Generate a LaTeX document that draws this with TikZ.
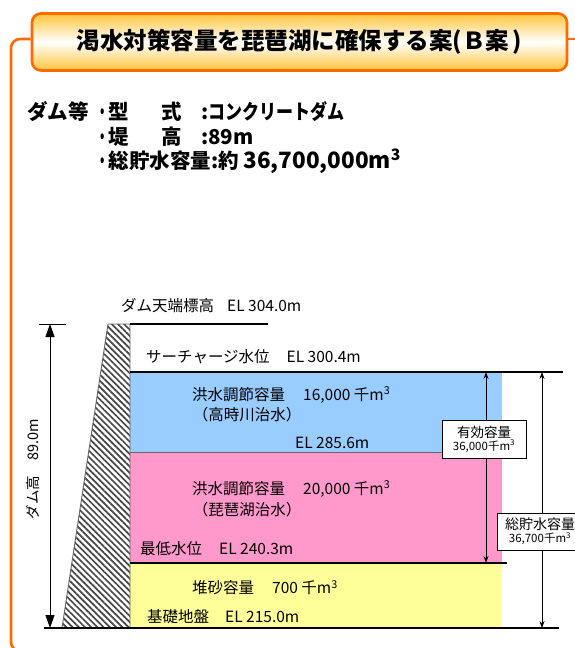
\documentclass[tikz,border=0pt]{standalone}
\usepackage{fontspec}
\setmainfont{Noto Sans CJK JP}
\usetikzlibrary{calc,patterns,patterns.meta,arrows.meta}
\definecolor{frameorange}{HTML}{FF6A00}
\definecolor{titlegold}{HTML}{FFC43A}
\definecolor{floodblue}{HTML}{99CCFF}
\definecolor{floodpink}{HTML}{FF99CC}
\definecolor{sandyellow}{HTML}{FFFF99}
\tikzset{
  spec/.style={anchor=west, inner sep=0pt, font=\fontsize{20.5}{22}\selectfont\bfseries},
  lbl/.style={anchor=west, inner sep=0pt, font=\fontsize{15.5}{17}\selectfont},
  elevline/.style={line width=1.2pt},
  capbox/.style={draw, line width=0.9pt, fill=white, align=center, inner sep=1.5pt},
  smallarrow/.style={line width=0.8pt, {Stealth[length=7pt,width=5pt]}-{Stealth[length=7pt,width=5pt]}}
}

\begin{document}
\begin{tikzpicture}[x=1pt,y=-1pt]
			%%%%% START %%%%%
			\useasboundingbox (0,0) rectangle (575,648);
			
			% title and frame
			\node[draw=frameorange, line width=2.6pt, rounded corners=9pt, minimum width=535pt, minimum height=57pt,
			      top color=titlegold, bottom color=titlegold, middle color=white,
			      font=\fontsize{23.5}{26}\selectfont\bfseries] (title) at (299.5,42) {渇水対策容量を琵琶湖に確保する案(Ｂ案\,)};
			\coordinate (frametop) at (11,39);
			\coordinate (framebot) at (11,651);
			\draw[frameorange, line width=2.6pt, rounded corners=9pt] (title.west |- frametop) -- (frametop) -- (framebot) -- (60,651);
			\draw[frameorange, line width=2.6pt] (title.east |- frametop) -- (578,39);
			
			% specification
			\node[spec] (damtype) at (27,112) {ダム等};
			\node[spec] (kata) at (96,112) {\scalebox{0.6}[1]{・}型};
			\node[spec] (shiki) at (161,112) {式};
			\node[spec] (typeval) at (201,112) {:\scalebox{0.83}[1]{コンクリートダム}};
			\node[spec] (tei) at (96,137) {\scalebox{0.6}[1]{・}堤};
			\node[spec] (kou) at (161,137) {高};
			\node[spec] (heightval) at (201,137) {:89m};
			\node[spec] (volval) at (96,161) {\scalebox{0.6}[1]{・}総貯水容量:約 {\fontsize{22.5}{24}\selectfont 36,700,000m\textsuperscript{3}}};
			
			% reservoir layers
			\fill[floodblue] (130,372) rectangle (502,452);
			\fill[floodpink] (130,452) rectangle (502,563);
			\fill[sandyellow] (130,563) rectangle (502,628);
			\draw[line width=0.3pt, black!60] (130,452) -- (502,452);
			
			% dam body
			\draw[pattern={Lines[angle=-45,distance=4.4pt,line width=1.7pt]}, pattern color=black!72, draw=black!60, line width=0.9pt] (108,324) -- (130,324) -- (130,628) -- (62,628) -- cycle;
			
			% elevation lines
			\coordinate (crestL) at (130,324);
			\coordinate (crestR) at (268,324);
			\coordinate (surL) at (130,372);
			\coordinate (surR) at (563,372);
			\coordinate (lowL) at (130,563);
			\coordinate (lowR) at (507,563);
			\coordinate (baseL) at (44,628);
			\coordinate (baseR) at (559,628);
			\draw[elevline] (crestL) -- (crestR);
			\draw[elevline] (surL) -- (surR);
			\draw[elevline] (lowL) -- (lowR);
			\draw[elevline] (baseL) -- (baseR);
			
			% dam height
			\coordinate (htop) at (50,324);
			\coordinate (hbot) at (50,628);
			\draw[line width=0.8pt] (39,324) -- (66,324);
			\draw[line width=1pt, {Triangle[length=13pt,width=9pt]}-{Triangle[length=13pt,width=9pt]}] (htop) -- (hbot);
			\node[font=\fontsize{14.5}{16}\selectfont, rotate=90, inner sep=0pt] (damheight) at (33,469) {ダム高\hspace{15pt}89.0m};
			
			% labels
			\node[lbl] (crestlbl) at (121,306) {ダム天端標高\hspace{13pt}EL 304.0m};
			\node[lbl] (surlbl) at (146,357) {サーチャージ水位\hspace{17pt}EL 300.4m};
			\node[lbl] (flood1) at (192,395) {洪水調節容量\hspace{18pt}16,000 千m\textsuperscript{3}};
			\node[lbl, anchor=center] (flood1sub) at (247,415) {（高時川治水）};
			\node[lbl] (el285) at (295,443) {EL 285.6m};
			\node[lbl] (flood2) at (192,489) {洪水調節容量\hspace{18pt}20,000 千m\textsuperscript{3}};
			\node[lbl, anchor=center] (flood2sub) at (247,510) {（琵琶湖治水）};
			\node[lbl] (lowlbl) at (140,549) {最低水位\hspace{17pt}EL 240.3m};
			\node[lbl] (sandlbl) at (192,588) {堆砂容量\hspace{18pt}700 千m\textsuperscript{3}};
			\node[lbl] (baselbl) at (147,617) {基礎地盤\hspace{16pt}EL 215.0m};
			
			% capacity arrows
			\coordinate (efftop) at (486,372);
			\coordinate (effbot) at (486,563);
			\coordinate (tottop) at (542,372);
			\coordinate (totbot) at (542,628);
			\draw[smallarrow] (efftop) -- (effbot);
			\draw[smallarrow] (tottop) -- (totbot);
			\node[capbox, minimum width=84pt, minimum height=38pt] (effbox) at (484,439)
			   {{\fontsize{13.5}{15}\selectfont 有効容量}\\[1pt]{\fontsize{11.5}{13}\selectfont 36,000千m\textsuperscript{3}}};
			\node[capbox, minimum width=86pt, minimum height=37pt] (totbox) at (540,531.5)
			   {{\fontsize{14}{15}\selectfont 総貯水容量}\\[1pt]{\fontsize{11.5}{13}\selectfont 36,700千m\textsuperscript{3}}};
			
			%%%%% END %%%%%
\end{tikzpicture}
\end{document}
